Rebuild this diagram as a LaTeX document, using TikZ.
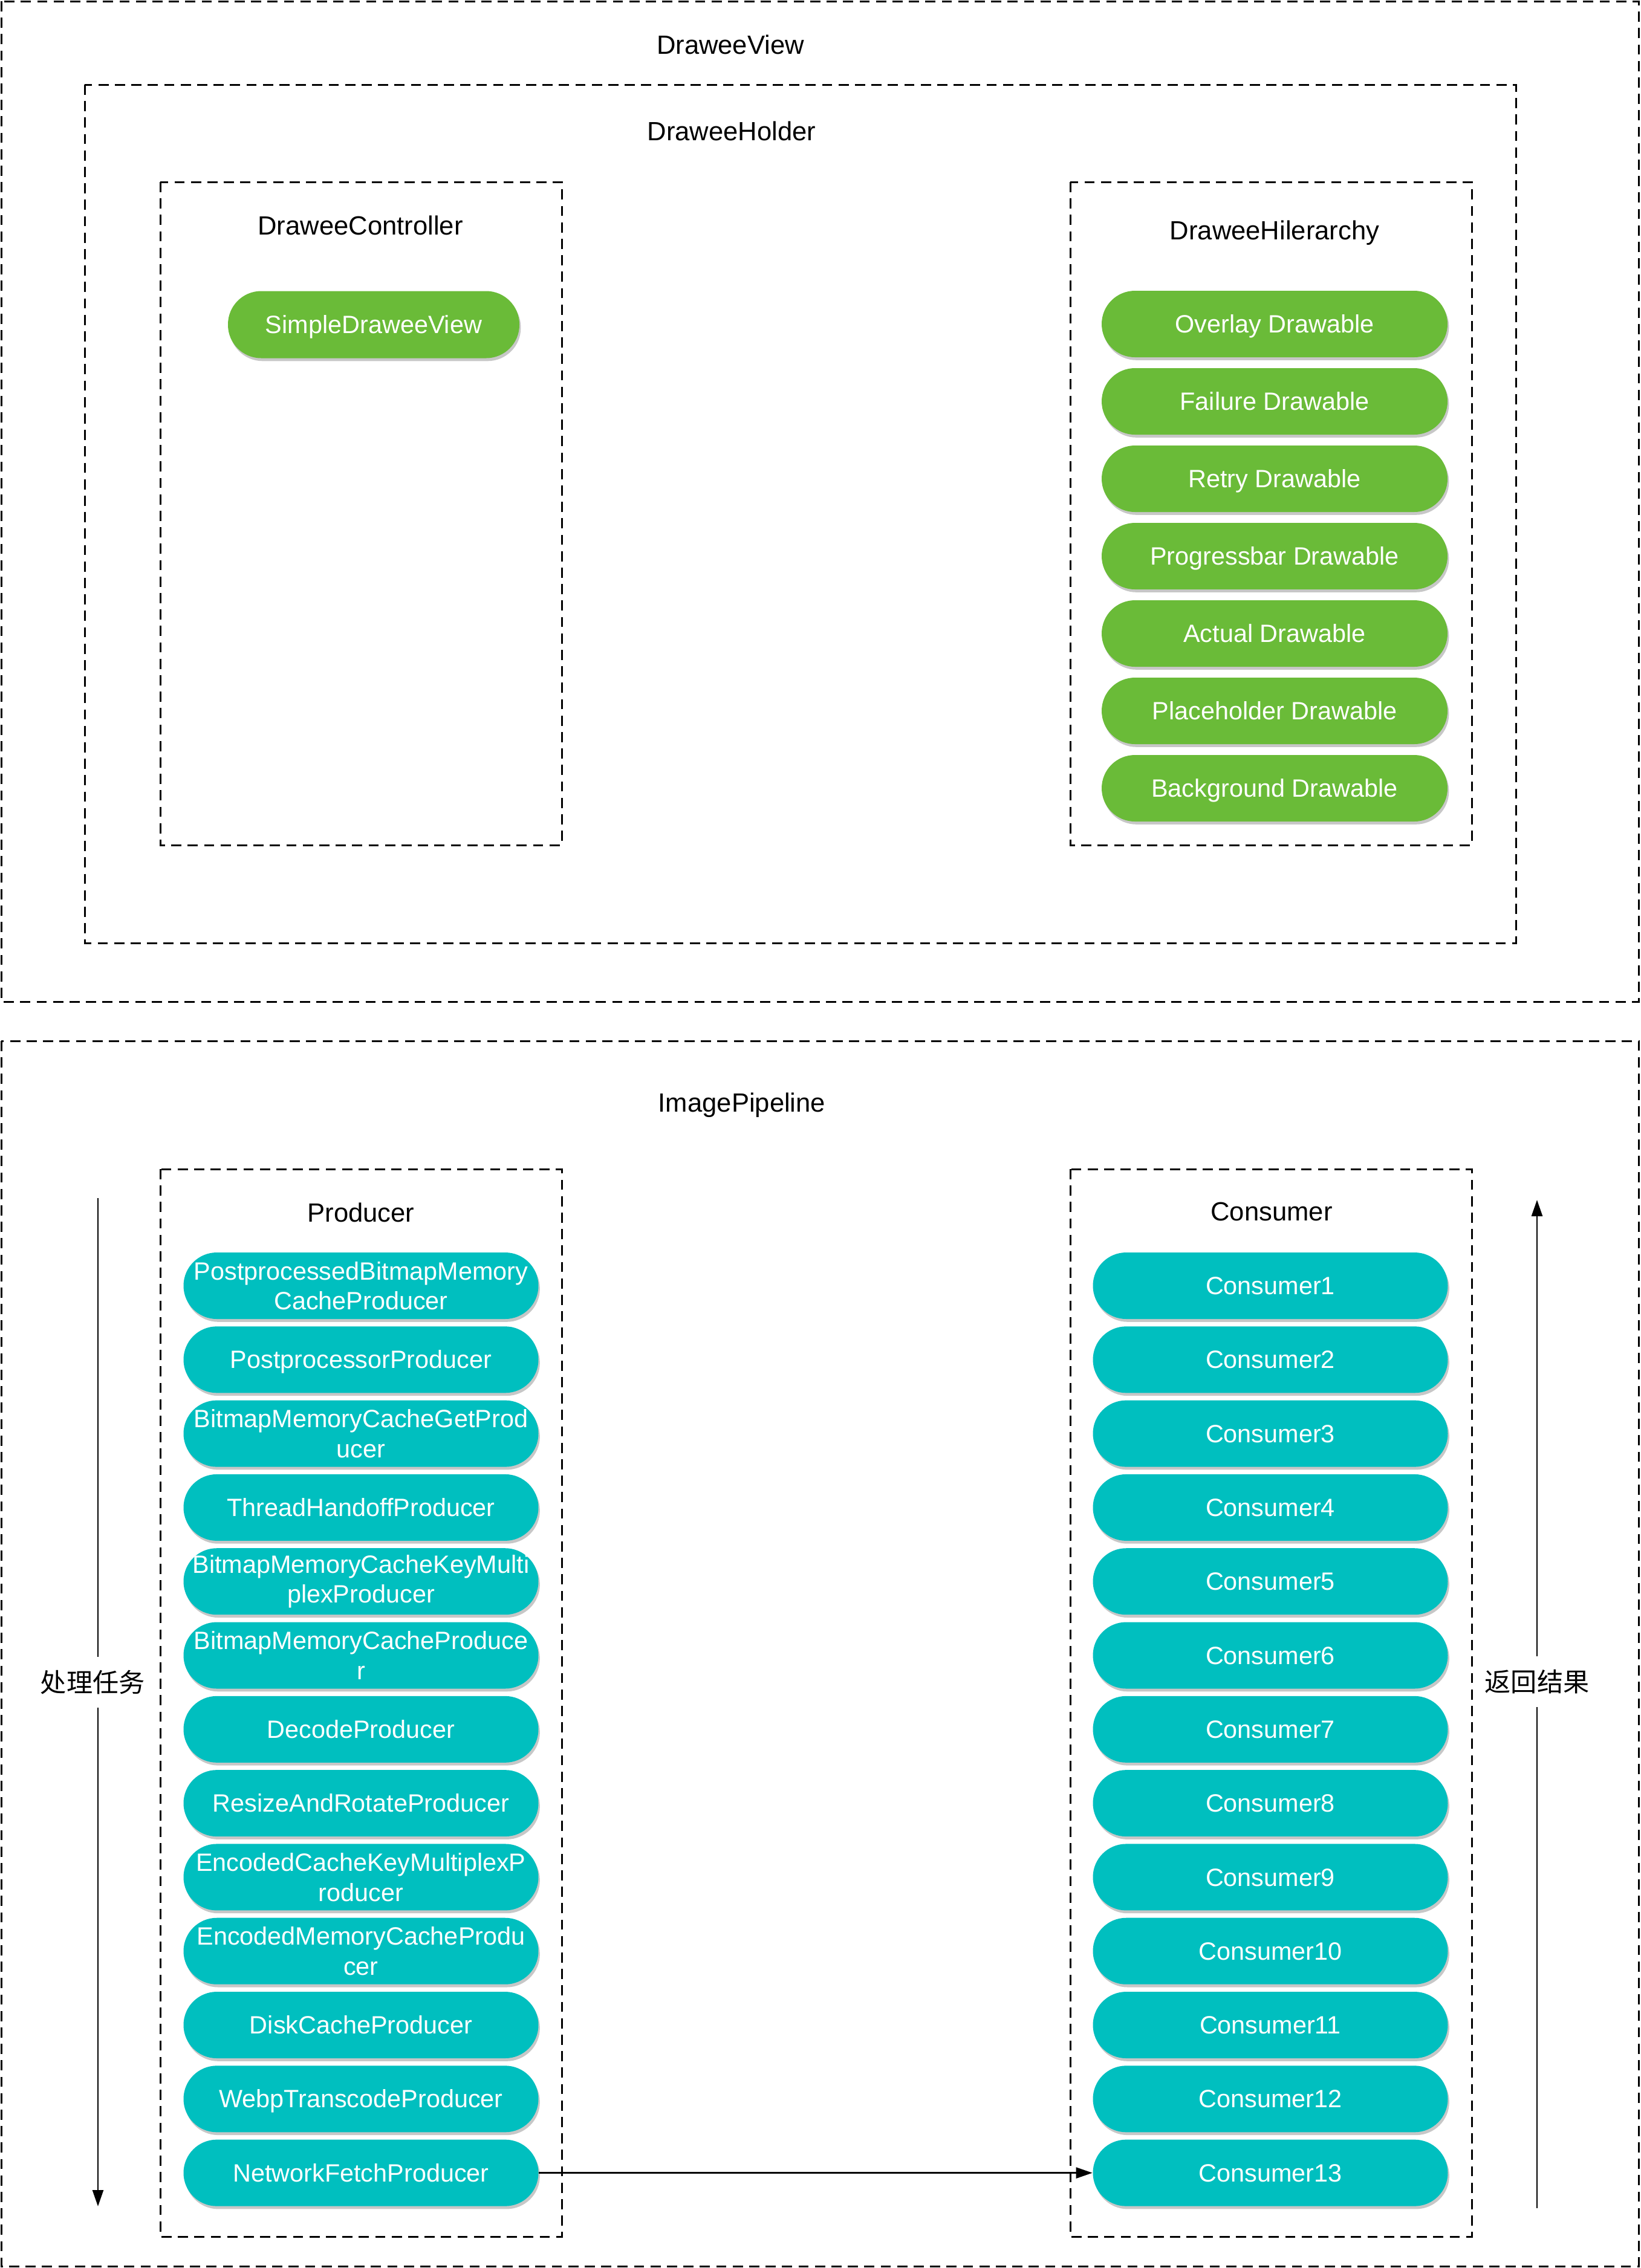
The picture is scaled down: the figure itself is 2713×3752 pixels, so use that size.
\documentclass[tikz,border=0pt]{standalone}
\usepackage{fontspec}
\setmainfont{Liberation Sans}
\newfontfamily\cjkfont{Noto Sans CJK SC}
\usetikzlibrary{shadows,arrows.meta}
\definecolor{pillgreen}{HTML}{6ABB38}
\definecolor{pillteal}{HTML}{00BFBF}
\begin{document}
\begin{tikzpicture}[x=0.25pt,y=-0.25pt,
  frame/.style={draw=black, line width=0.75pt, dash pattern=on 4.2pt off 2.6pt},
  title/.style={font=\fontsize{10.9}{13}\selectfont, inner sep=0pt, yshift=-0.7pt},
  pill/.style={rounded corners=13.75pt, minimum height=27.5pt, inner sep=0pt, text=white, align=center,
    font=\fontsize{10.35}{12.4}\selectfont,
    drop shadow={shadow xshift=0.6pt, shadow yshift=-1.2pt, opacity=0.22, fill=black}},
  oneline/.style={text height=0.73em, text depth=0pt, yshift=-0.5pt},
  twoline/.style={yshift=-0.5pt},
  greenpill/.style={pill, oneline, fill=pillgreen, minimum width=143pt},
  tealpill/.style={pill, fill=pillteal, minimum width=146.75pt},
  arr/.style={line width=0.65pt, -{Triangle[length=6.75pt,width=4.5pt]}},
  cjklabel/.style={font=\cjkfont\fontsize{10.8}{13}\selectfont, fill=white, inner xsep=2pt, inner ysep=5.5pt}
]
\useasboundingbox (0,0) rectangle (2713,3752);

% frames
\draw[frame] (2,2) rectangle (2710,1657);
\draw[frame] (140,140) rectangle (2507,1560);
\draw[frame] (265,301) rectangle (929,1398);
\draw[frame] (1770,301) rectangle (2434,1398);
\draw[frame] (2,1722) rectangle (2710,3749);
\draw[frame] (265,1934) rectangle (929,3700);
\draw[frame] (1770,1934) rectangle (2434,3700);

% titles
\node[title] (tview) at (1208,71) {DraweeView};
\node[title] (tholder) at (1210,214) {DraweeHolder};
\node[title] (tctrl) at (596,370) {DraweeController};
\node[title] (thier) at (2108,382) {DraweeHilerarchy};
\node[title] (tpipe) at (1227,1825) {ImagePipeline};
\node[title] (tprod) at (597,2003) {Producer};
\node[title] (tcons) at (2103,2002) {Consumer};

% top pills
\node[greenpill, minimum width=120.5pt, minimum height=27.75pt] (sdv) at (618,535) {SimpleDraweeView};
\foreach \t [count=\i] in {Overlay Drawable, Failure Drawable, Retry Drawable, Progressbar Drawable,
    Actual Drawable, Placeholder Drawable, Background Drawable}
  \node[greenpill] (g\i) at (2108,{534+128*(\i-1)}) {\t};

% producers
\foreach \t/\s [count=\i] in {{PostprocessedBitmapMemory\\CacheProducer}/twoline, PostprocessorProducer/oneline,
    {BitmapMemoryCacheGetProd\\ucer}/twoline, ThreadHandoffProducer/oneline,
    {BitmapMemoryCacheKeyMulti\\plexProducer}/twoline,
    {BitmapMemoryCacheProduce\\r}/twoline, DecodeProducer/oneline, ResizeAndRotateProducer/oneline,
    {EncodedCacheKeyMultiplexP\\roducer}/twoline, {EncodedMemoryCacheProdu\\cer}/twoline,
    DiskCacheProducer/oneline, WebpTranscodeProducer/oneline, NetworkFetchProducer/oneline}
  \node[tealpill, \s] (p\i) at (597,{2125+122.3*(\i-1)}) {\t};

% consumers
\foreach \i in {1,...,13}
  \node[tealpill, oneline] (c\i) at (2101,{2125+122.3*(\i-1)}) {Consumer\i};

% connectors
\draw[arr] (p13.east) -- (c13.west);
\coordinate (ltop) at (162,1982);
\coordinate (lbot) at (162,3650);
\draw[arr] (ltop) -- (lbot) node[cjklabel, pos=0.48, xshift=-2.2pt] (lproc) {处理任务};
\coordinate (rbot) at (2542,3653);
\draw[arr] (rbot) -- (2542,1985) coordinate (rtop) node[cjklabel, pos=0.522] (lret) {返回结果};
\end{tikzpicture}
\end{document}
